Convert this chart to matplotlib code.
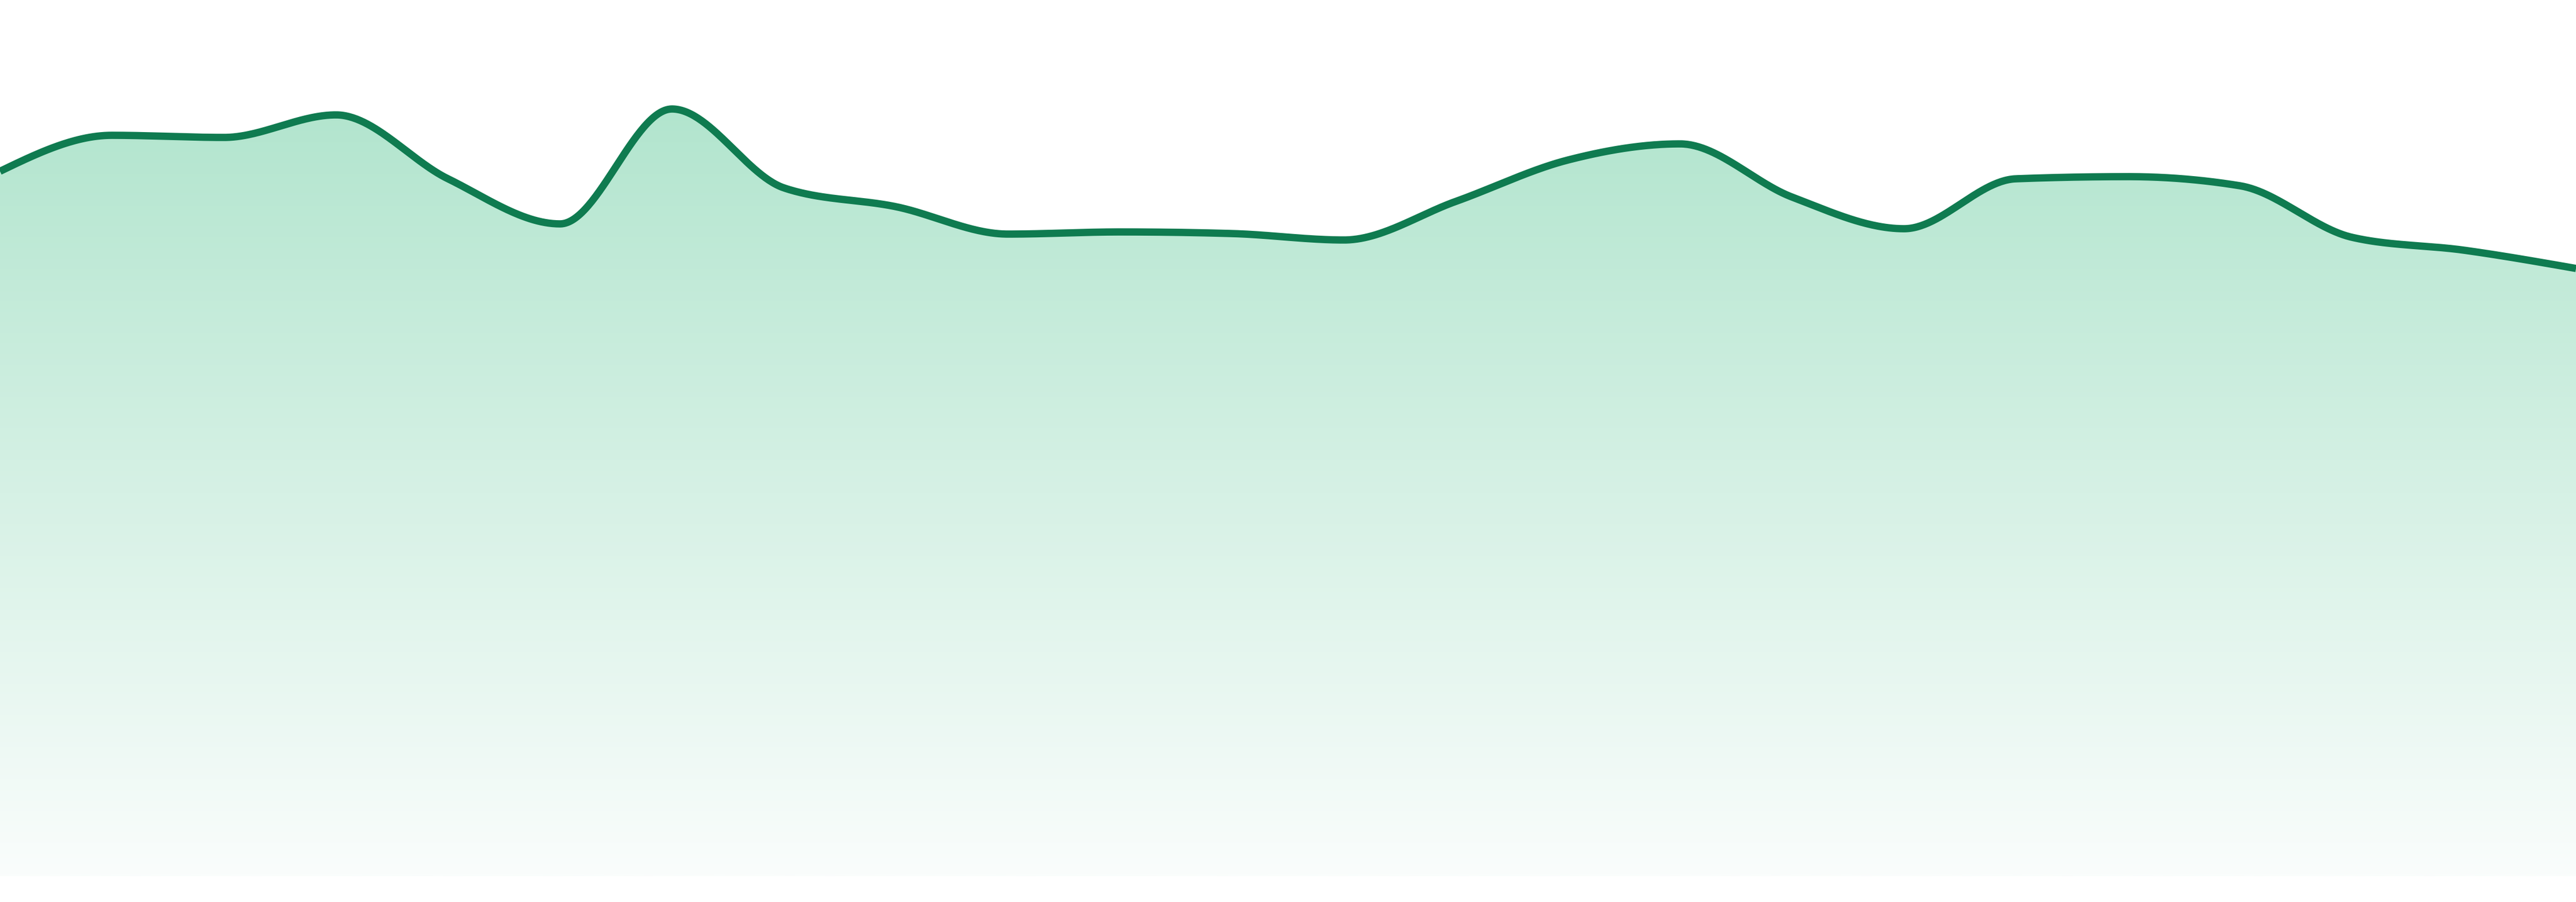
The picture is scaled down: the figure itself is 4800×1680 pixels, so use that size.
import numpy as np
import matplotlib
matplotlib.use("Agg")
import matplotlib.pyplot as plt
from matplotlib.colors import to_rgb

# hourly values (24 points)
hours = list(range(24))
values = [131.3, 138.0, 137.6, 141.8, 129.9, 121.5, 142.9, 128.2,
          124.7, 119.6, 120.0, 119.7, 118.5, 125.7, 133.4, 136.4,
          126.5, 120.6, 129.9, 130.3, 128.6, 119.0, 116.6, 113.2]

line_color = "#0f7b50"
fill_top = "#b2e5ce"
fill_bottom = "#fafdfc"


def monotone_x(x, y, n=60):
    # monotone cubic (Steffen), same idea as d3.curveMonotoneX
    x = np.asarray(x, float)
    y = np.asarray(y, float)
    h = np.diff(x)
    s = np.diff(y) / h
    t = np.zeros_like(y)
    for i in range(1, len(x) - 1):
        p = (s[i - 1] * h[i] + s[i] * h[i - 1]) / (h[i - 1] + h[i])
        t[i] = (np.sign(s[i - 1]) + np.sign(s[i])) * min(abs(s[i - 1]), abs(s[i]), 0.5 * abs(p))
    t[0] = (3 * s[0] - t[1]) / 2
    t[-1] = (3 * s[-1] - t[-2]) / 2
    xs, ys = [], []
    for i in range(len(x) - 1):
        u = np.linspace(0, 1, n, endpoint=(i == len(x) - 2))
        h00 = 2 * u**3 - 3 * u**2 + 1
        h10 = u**3 - 2 * u**2 + u
        h01 = -2 * u**3 + 3 * u**2
        h11 = u**3 - u**2
        xs.append(x[i] + u * h[i])
        ys.append(h00 * y[i] + h10 * h[i] * t[i] + h01 * y[i + 1] + h11 * h[i] * t[i + 1])
    return np.concatenate(xs), np.concatenate(ys)


xs, ys = monotone_x(hours, values)

fig = plt.figure(figsize=(24, 8.4), dpi=200)
ax = fig.add_axes([0, 48 / 1680, 1, 1632 / 1680])
ax.set_xlim(0, 23)
ax.set_ylim(0, 163.2)
ax.axis("off")

# gradient fill under the curve
top = max(values)
c0 = np.array(to_rgb(fill_top))
c1 = np.array(to_rgb(fill_bottom))
k = np.linspace(0, 1, 256)[:, None]
grad = (c0 * (1 - k) + c1 * k)[:, None, :]
poly = ax.fill_between(xs, ys, 0, color="none", lw=0)
img = ax.imshow(grad, extent=[0, 23, 0, top], aspect="auto", origin="upper",
                interpolation="bilinear", zorder=1)
img.set_clip_path(poly.get_paths()[0], transform=ax.transData)
ax.set_xlim(0, 23)
ax.set_ylim(0, 163.2)

ax.plot(xs, ys, color=line_color, linewidth=4.9, solid_capstyle="butt", zorder=3)

fig.savefig("out.png", dpi=200)
